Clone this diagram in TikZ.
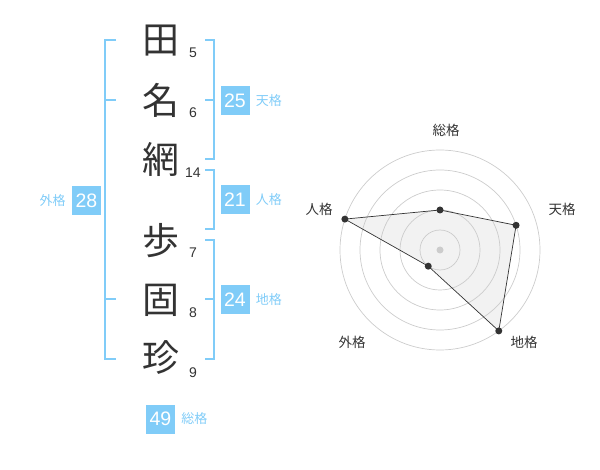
\documentclass[tikz,border=0pt]{standalone}
\usepackage{fontspec}
\setmainfont{Liberation Sans}
\newfontfamily\jpfont{Noto Sans CJK JP}
\usetikzlibrary{positioning}
\definecolor{kakublue}{HTML}{80CCF8}
\definecolor{inkgray}{HTML}{333333}
\definecolor{ringgray}{HTML}{CCCCCC}
\begin{document}
\begin{tikzpicture}[
            x=1pt, y=-1pt,
            kanji/.style={text=inkgray, inner sep=0pt, font=\jpfont\fontsize{37}{37}\selectfont},
            strokes/.style={text=inkgray, inner sep=0pt, font=\fontsize{14}{14}\selectfont},
            bracket/.style={draw=kakublue, line width=1.8pt},
            kakubox/.style={fill=kakublue, text=white, minimum width=29pt, minimum height=29pt, inner sep=0pt, font=\fontsize{19.5}{19.5}\selectfont},
            kakulabel/.style={text=kakublue, inner sep=0pt, font=\jpfont\fontsize{13}{13}\selectfont},
            ring/.style={draw=ringgray, line width=0.7pt},
            axislabel/.style={text=inkgray, inner sep=0pt, font=\jpfont\fontsize{13.5}{13.5}\selectfont},
            dot/.style={circle, fill=inkgray, inner sep=0pt, minimum size=7pt}
            ]
            \useasboundingbox (0,0) rectangle (600,470);
            % name and stroke counts
            \node[kanji] (k1) at (161,41) {田};
            \node[kanji] (k2) at (161,100) {名};
            \node[kanji] (k3) at (161,159) {網};
            \node[kanji] (k4) at (161,241) {歩};
            \node[kanji] (k5) at (161,300) {固};
            \node[kanji] (k6) at (161,358) {珍};
            \node[strokes] (s1) at (193,53) {5};
            \node[strokes] (s2) at (193,113) {6};
            \node[strokes] (s3) at (193,173) {14};
            \node[strokes] (s4) at (193,253) {7};
            \node[strokes] (s5) at (193,313) {8};
            \node[strokes] (s6) at (193,373) {9};
            % brackets
            \draw[bracket] (116,40) -- (105,40) -- (105,359) -- (116,359);
            \draw[bracket] (105,100) -- (116,100);
            \draw[bracket] (105,299) -- (116,299);
            \draw[bracket] (205,40) -- (214,40) -- (214,159) -- (205,159);
            \draw[bracket] (205,100) -- (214,100);
            \draw[bracket] (205,170) -- (214,170) -- (214,229) -- (205,229);
            \draw[bracket] (205,240) -- (214,240) -- (214,359) -- (205,359);
            \draw[bracket] (205,299) -- (214,299);
            % scores
            \node[kakubox] (ten) at (235,100.5) {25};
            \node[kakulabel, right=6pt of ten] (tenl) {天格};
            \node[kakubox] (jin) at (235,200) {21};
            \node[kakulabel, right=6pt of jin] (jinl) {人格};
            \node[kakubox] (chi) at (235,300) {24};
            \node[kakulabel, right=6pt of chi] (chil) {地格};
            \node[kakubox] (gai) at (86.5,200.5) {28};
            \node[kakulabel, left=6pt of gai] (gail) {外格};
            \node[kakubox] (sou) at (160.5,419) {49};
            \node[kakulabel, right=6pt of sou] (soul) {総格};
            % radar
            \coordinate (ctr) at (440,250);
            \path (ctr) ++(90:40pt) coordinate (psou);
            \path (ctr) ++(18:80pt) coordinate (pten);
            \path (ctr) ++(-54:100pt) coordinate (pchi);
            \path (ctr) ++(-126:20pt) coordinate (pgai);
            \path (ctr) ++(162:100pt) coordinate (pjin);
            \fill[gray!10] (psou) -- (pten) -- (pchi) -- (pgai) -- (pjin) -- cycle;
            \foreach \r in {20,40,...,100}
              \draw[ring] (ctr) circle[radius=\r pt];
            \node[circle, fill=ringgray, inner sep=0pt, minimum size=7pt] (mid) at (ctr) {};
            \draw[inkgray, line width=0.7pt] (psou) -- (pten) -- (pchi) -- (pgai) -- (pjin) -- cycle;
            \node[dot] at (psou) {};
            \node[dot] at (pten) {};
            \node[dot] at (pchi) {};
            \node[dot] at (pgai) {};
            \node[dot] at (pjin) {};
            \node[axislabel] (asou) at (446,130) {総格};
            \node[axislabel] (aten) at (562,209) {天格};
            \node[axislabel] (achi) at (524,342) {地格};
            \node[axislabel] (agai) at (352,342) {外格};
            \node[axislabel] (ajin) at (319,209) {人格};
\end{tikzpicture}
\end{document}
